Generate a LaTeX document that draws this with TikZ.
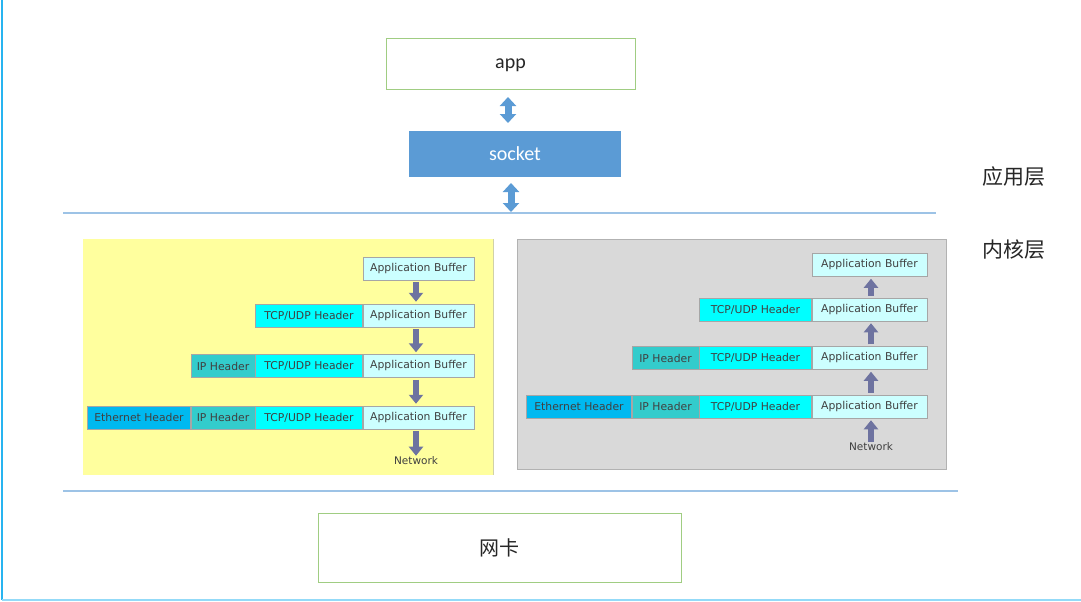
\documentclass[tikz,border=0pt]{standalone}
\usepackage{fontspec}
\usetikzlibrary{positioning,arrows.meta}
\newfontfamily\appfont{Carlito}
\newfontfamily\pktfont{DejaVu Sans}
\newfontfamily\cjkfont{Noto Sans CJK SC}
\definecolor{boxgreen}{RGB}{160,205,130}
\definecolor{sockblue}{RGB}{91,155,213}
\definecolor{sepblue}{RGB}{157,195,230}
\definecolor{framecol}{RGB}{40,180,240}
\definecolor{panelyellow}{RGB}{255,255,158}
\definecolor{panelgray}{RGB}{217,217,217}
\definecolor{ethcol}{RGB}{0,185,240}
\definecolor{ipcol}{RGB}{51,204,204}
\definecolor{tcpcol}{RGB}{0,255,255}
\definecolor{appcol}{RGB}{204,255,255}
\definecolor{blkcol}{RGB}{110,115,160}
\tikzset{
  layer/.style={draw=boxgreen, line width=0.8pt, inner sep=0pt,
    font=\appfont\fontsize{20}{24}\selectfont, text=black!85},
  seg/.style={draw=black!35, line width=0.5pt, minimum height=23pt, inner sep=0pt,
    font=\pktfont\fontsize{10.8}{12}\selectfont, text=black!75},
  appbuf/.style={seg, fill=appcol, minimum width=#1}, appbuf/.default=111pt,
  tcphdr/.style={seg, fill=tcpcol, minimum width=#1}, tcphdr/.default=107pt,
  iphdr/.style={seg, fill=ipcol, minimum width=#1}, iphdr/.default=64pt,
  ethhdr/.style={seg, fill=ethcol, minimum width=#1}, ethhdr/.default=103pt,
  netlbl/.style={font=\pktfont\fontsize{10.5}{12}\selectfont, text=black!75, inner sep=1pt},
  blk/.style={line width=6pt, draw=blkcol, -{Triangle[width=14pt,length=9pt]}},
  dbl/.style={line width=7pt, draw=sockblue,
    {Triangle[width=16pt,length=9pt]}-{Triangle[width=16pt,length=9pt]}},
  sep/.style={draw=sepblue, line width=1.5pt},
  tier/.style={font=\cjkfont\fontsize{21}{24}\selectfont, text=black!85}
}
\begin{document}
\begin{tikzpicture}[x=1pt,y=-1pt]
    \useasboundingbox (0,0) rectangle (1081,602);
    \draw[framecol, line width=1.5pt] (2,0) -- (2,600);
    \draw[framecol!50, line width=1.5pt] (2,600) -- (1081,600);

    \node[layer, text depth=0pt, minimum width=249pt, minimum height=51pt] (app) at (510.5,63.5) {app};
    \node[layer, draw=none, fill=sockblue, text=white, minimum width=212pt, minimum height=46pt] (socket) at (515,154) {socket};
    \node[layer, minimum width=363pt, minimum height=69pt] (nic) at (499.5,547.5) {\cjkfont 网卡};
    \node[tier] (user) at (1014,177) {应用层};
    \node[tier] (kern) at (1014,250) {内核层};

    \draw[sep] (63,213) -- (936,213);
    \draw[sep] (63,491) -- (958,491);
    \coordinate (k) at (511,212);
    \coordinate (a1) at (508,97);
    \coordinate (a2) at (508,123);
    \coordinate (s1) at (511,183);

    \draw[dbl] (a1) -- (a2);
    \draw[dbl] (s1) -- (k);

    \fill[panelyellow] (83,239) rectangle (493,475);
    \draw[panelyellow!70!black!60!white, line width=1pt] (493,239) -- (493,475);
    \draw[fill=panelgray, draw=black!30, line width=0.8pt] (517,239) rectangle (946,469);

    \node[appbuf] (la1) at (418.5,268.5) {Application Buffer};
    \node[appbuf] (la2) at (418.5,315.5) {Application Buffer};
    \node[tcphdr, left=0pt of la2] (lt2) {TCP/UDP Header};
    \node[appbuf] (la3) at (418.5,366) {Application Buffer};
    \node[tcphdr, left=0pt of la3] (lt3) {TCP/UDP Header};
    \node[iphdr, left=0pt of lt3] (li3) {IP Header};
    \node[appbuf] (la4) at (418.5,417.5) {Application Buffer};
    \node[tcphdr, left=0pt of la4] (lt4) {TCP/UDP Header};
    \node[iphdr, left=0pt of lt4] (li4) {IP Header};
    \node[ethhdr, left=0pt of li4] (le4) {Ethernet Header};
    \node[netlbl] (lnet) at (416,461) {Network};

    \draw[blk] ([yshift=-2pt]la1.south -| lnet) -- ([yshift=2pt]la2.north -| lnet);
    \draw[blk] ([yshift=-2pt]la2.south -| lnet) -- ([yshift=2pt]la3.north -| lnet);
    \draw[blk] ([yshift=-2pt]la3.south -| lnet) -- ([yshift=2pt]la4.north -| lnet);
    \draw[blk] ([yshift=-2pt]la4.south -| lnet) -- (lnet.north);

    \node[appbuf=115pt] (ra1) at (869.5,265) {Application Buffer};
    \node[appbuf=115pt] (ra2) at (869.5,309.5) {Application Buffer};
    \node[tcphdr=112pt, left=0pt of ra2] (rt2) {TCP/UDP Header};
    \node[appbuf=115pt] (ra3) at (869.5,358) {Application Buffer};
    \node[tcphdr=112pt, left=0pt of ra3] (rt3) {TCP/UDP Header};
    \node[iphdr=67pt, left=0pt of rt3] (ri3) {IP Header};
    \node[appbuf=115pt] (ra4) at (869.5,406.5) {Application Buffer};
    \node[tcphdr=112pt, left=0pt of ra4] (rt4) {TCP/UDP Header};
    \node[iphdr=67pt, left=0pt of rt4] (ri4) {IP Header};
    \node[ethhdr=105pt, left=0pt of ri4] (re4) {Ethernet Header};
    \node[netlbl] (rnet) at (871,447) {Network};

    \draw[blk] (rnet.north) -- ([yshift=-2pt]ra4.south -| rnet);
    \draw[blk] ([yshift=2pt]ra4.north -| rnet) -- ([yshift=-2pt]ra3.south -| rnet);
    \draw[blk] ([yshift=2pt]ra3.north -| rnet) -- ([yshift=-2pt]ra2.south -| rnet);
    \draw[blk] ([yshift=2pt]ra2.north -| rnet) -- ([yshift=-2pt]ra1.south -| rnet);
  \end{tikzpicture}
\end{document}
